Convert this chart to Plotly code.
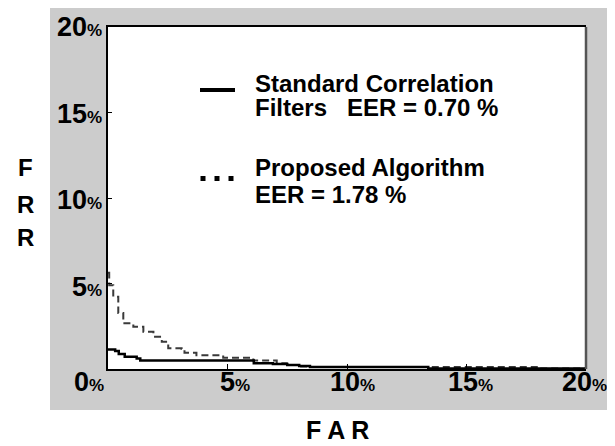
import plotly.graph_objects as go

# ---- data (percent) ----
scf_far = [0, 0.3, 0.45, 0.7, 1.2, 1.35, 6.1, 6.9, 7.5, 8.0, 8.45, 13.4, 20]
scf_frr = [1.14, 1.05, 0.88, 0.72, 0.62, 0.49, 0.33, 0.29, 0.23, 0.18, 0.12, 0.03, 0.03]

pa_far = [0, 0.05, 0.22, 0.43, 0.64, 1.06, 1.48, 1.9, 2.25, 2.52, 3.08, 3.2, 3.7, 4.82, 6.08, 6.5, 7.06, 7.48, 8.03, 8.45, 18.0, 20]
pa_frr = [5.63, 4.9, 4.23, 3.27, 2.67, 2.47, 2.18, 1.89, 1.6, 1.21, 1.17, 0.95, 0.8, 0.66, 0.49, 0.49, 0.33, 0.23, 0.14, 0.12, 0.03, 0.03]

tick_vals = [0, 5, 10, 15, 20]
tick_labels = ["0", "5", "10", "15", "20"]
legend_lines_1 = ["Standard Correlation", "Filters\u00a0\u00a0\u00a0EER = 0.70 %"]
legend_lines_2 = ["Proposed Algorithm", "EER = 1.78 %"]

OFF = 8  # page body margin
W, H = 615 - OFF, 446 - OFF
L, R, T, B = 108, 586, 27, 369  # plot area in window pixels


def px(x):
    return (x - L) / (R - L)


def py(y):
    return (B - y) / (B - T)


FONT = "Liberation Sans, Arial, Helvetica, sans-serif"

fig = go.Figure()
fig.add_trace(go.Scatter(x=pa_far, y=pa_frr, mode="lines", line_shape="hv",
                         line=dict(color="#3a3a3a", width=2, dash="7px,4px"),
                         showlegend=False, hoverinfo="skip"))
fig.add_trace(go.Scatter(x=scf_far, y=scf_frr, mode="lines", line_shape="hv",
                         line=dict(color="black", width=2.5),
                         showlegend=False, hoverinfo="skip"))

shapes = [
    dict(type="rect", xref="paper", yref="paper", x0=px(50), x1=px(620), y0=py(410), y1=py(5),
         fillcolor="#cccccc", line_width=0, layer="below"),
    dict(type="rect", xref="paper", yref="paper", x0=0, x1=1, y0=0, y1=1,
         fillcolor="white", line_width=0, layer="below"),
    dict(type="line", xref="paper", yref="paper", x0=1, x1=1, y0=0, y1=1,
         line=dict(color="#555555", width=2.5)),
    # legend symbols
    dict(type="line", xref="paper", yref="paper", x0=px(200), x1=px(235), y0=py(90), y1=py(90),
         line=dict(color="black", width=4)),
]
for cx in [203, 217, 231]:
    shapes.append(dict(type="rect", xref="paper", yref="paper", x0=px(cx - 2.5), x1=px(cx + 2.5),
                       y0=py(181), y1=py(176), fillcolor="black", line_width=0))

ann = []


def tick_text(t):
    return f"<b>{t}<span style='font-size:17px'>%</span></b>"


# y tick labels
for v, t in zip(tick_vals[1:], tick_labels[1:]):
    ycen = {5: 287, 10: 200, 15: 114, 20: 27}[v]
    ann.append(dict(x=px(104), y=py(ycen), xref="paper", yref="paper", text=tick_text(t),
                    showarrow=False, xanchor="right", yanchor="middle",
                    font=dict(family=FONT, size=27, color="black")))
# x tick labels
for v, t in zip(tick_vals, tick_labels):
    xcen = {0: 89, 5: 235, 10: 352, 15: 470, 20: 584}[v]
    ann.append(dict(x=px(xcen), y=py(382), xref="paper", yref="paper", text=tick_text(t),
                    showarrow=False, xanchor="center", yanchor="middle",
                    font=dict(family=FONT, size=27, color="black")))

# axis titles
for ch, yc in zip(["F", "R", "R"], [168, 204, 237]):
    ann.append(dict(x=px(25), y=py(yc), xref="paper", yref="paper", text=f"<b>{ch}</b>",
                    showarrow=False, xanchor="center", yanchor="middle",
                    font=dict(family=FONT, size=24, color="black")))
ann.append(dict(x=px(337), y=py(430), xref="paper", yref="paper", text="<b>F A R</b>",
                showarrow=False, xanchor="center", yanchor="middle",
                font=dict(family=FONT, size=25, color="black")))

# legend text
for txt, yc in zip(legend_lines_1 + legend_lines_2, [84, 108, 167, 194]):
    ann.append(dict(x=px(253), y=py(yc), xref="paper", yref="paper", text=f"<b>{txt}</b>",
                    showarrow=False, xanchor="left", yanchor="middle",
                    font=dict(family=FONT, size=24, color="black")))

fig.update_layout(
    width=W, height=H,
    margin=dict(l=L - OFF, r=615 - R, t=T - OFF, b=446 - B, pad=0),
    paper_bgcolor="white", plot_bgcolor="white",
    shapes=shapes, annotations=ann,
    xaxis=dict(range=[0, 20], tickvals=tick_vals, showticklabels=False, ticks="inside",
               ticklen=5, tickcolor="black", showline=True, linecolor="black", linewidth=1.5,
               mirror=True, showgrid=False, zeroline=False, fixedrange=True),
    yaxis=dict(range=[0, 20], tickvals=tick_vals, showticklabels=False, ticks="inside",
               ticklen=4, tickcolor="black", showline=True, linecolor="black", linewidth=1.5,
               showgrid=False, zeroline=False, fixedrange=True),
)

fig.write_html("out.html")
